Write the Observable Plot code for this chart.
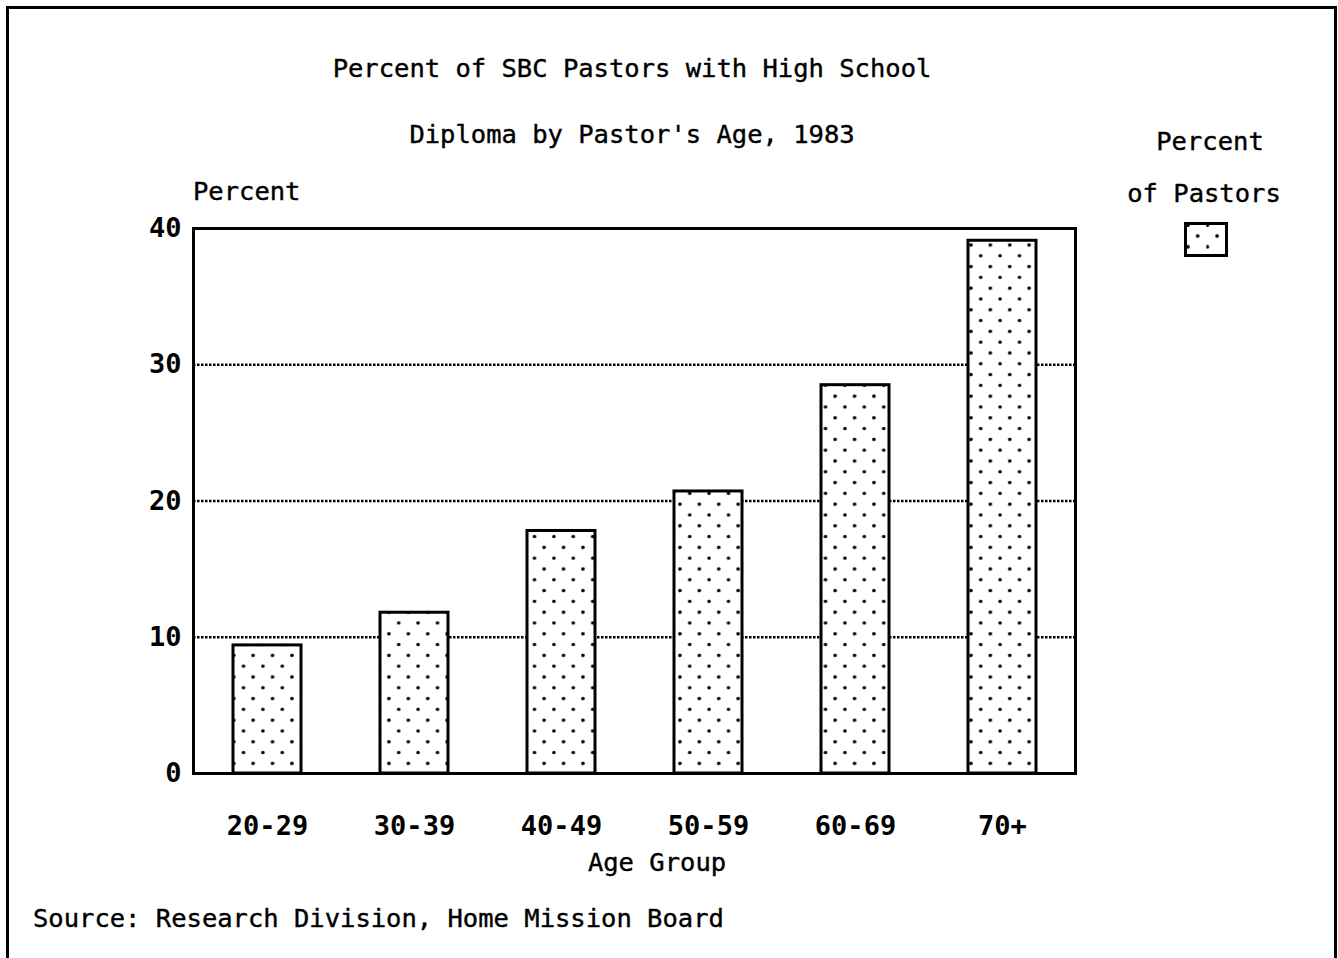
<!DOCTYPE html>
<html><head><meta charset="utf-8">
<script src="https://cdn.jsdelivr.net/npm/d3@7"></script>
<script src="https://cdn.jsdelivr.net/npm/@observablehq/plot@0.6"></script>
<style>
body{margin:0;background:#fff;}
#page{position:relative;width:1338px;height:958px;overflow:hidden;background:#fff;font-family:"DejaVu Sans Mono",monospace;color:#000;}
.t{position:absolute;font-size:25.5px;line-height:1;white-space:nowrap;-webkit-text-stroke:0.4px #000;}
.c{transform:translateX(-50%);}
#border{position:absolute;left:6px;top:6px;width:1331px;height:1000px;border:3px solid #000;box-sizing:border-box;}
#chart{position:absolute;left:0;top:0;}
#legbox{position:absolute;left:1184px;top:222px;}
</style></head><body>
<div id="page">
<div id="chart"></div>
<div id="border"></div>
<div class="t c" style="left:632px;top:56px;">Percent of SBC Pastors with High School</div>
<div class="t c" style="left:632px;top:122px;">Diploma by Pastor's Age, 1983</div>
<div class="t" style="left:193px;top:179px;">Percent</div>
<div class="t c" style="left:1210px;top:129px;">Percent</div>
<div class="t c" style="left:1204px;top:181px;">of Pastors</div>
<svg id="legbox" width="45" height="36">
  <defs>
    <pattern id="legdots" patternUnits="userSpaceOnUse" width="19.4" height="21.6" x="3" y="5">
      <rect width="19.4" height="21.6" fill="#fff"/>
      <circle cx="10.7" cy="9" r="1.8" fill="#000"/>
      <circle cx="1" cy="19.8" r="1.8" fill="#000"/>
    </pattern>
  </defs>
  <rect x="1.5" y="1.5" width="41" height="32" fill="url(#legdots)" stroke="#000" stroke-width="3"/>
</svg>
<div class="t c" style="left:657px;top:850px;">Age Group</div>
<div class="t" style="left:33px;top:906px;">Source: Research Division, Home Mission Board</div>
</div>
<script>
const ageGroups = ["20-29", "30-39", "40-49", "50-59", "60-69", "70+"];
const percents = [9.4, 11.8, 17.8, 20.7, 28.5, 39.1];
const yTicks = [0, 10, 20, 30, 40];
const gridValues = [10, 20, 30];

const data = ageGroups.map((age, i) => ({age, pct: percents[i]}));

const chart = Plot.plot({
  width: 1338,
  height: 958,
  marginLeft: 193,
  marginRight: 263,
  marginTop: 228,
  marginBottom: 185,
  style: {fontFamily: "DejaVu Sans Mono", fontSize: "27px", fontWeight: "bold", color: "black", background: "transparent", overflow: "visible"},
  x: {domain: ageGroups, paddingInner: 0.54, paddingOuter: 0.27, label: null, tickSize: 0, tickPadding: 42},
  y: {domain: [0, 40], ticks: yTicks, label: null, tickSize: 0, tickPadding: 12},
  marks: [
    Plot.ruleY(gridValues, {stroke: "black", strokeWidth: 2.5, strokeDasharray: "2.5,1.5"}),
    Plot.barY(data, {x: "age", y: "pct", fill: "url(#dots)", stroke: "black", strokeWidth: 3}),
    Plot.frame({stroke: "black", strokeWidth: 3})
  ]
});

const NS = "http://www.w3.org/2000/svg";
const defs = document.createElementNS(NS, "defs");
const pat = document.createElementNS(NS, "pattern");
pat.setAttribute("id", "dots");
pat.setAttribute("patternUnits", "userSpaceOnUse");
pat.setAttribute("width", "19.4");
pat.setAttribute("height", "21.6");
const bg = document.createElementNS(NS, "rect");
bg.setAttribute("width", "19.4"); bg.setAttribute("height", "21.6"); bg.setAttribute("fill", "#fff");
pat.appendChild(bg);
[[1, 7.4], [10.7, 18.2]].forEach(([cx, cy]) => {
  const c = document.createElementNS(NS, "circle");
  c.setAttribute("cx", cx); c.setAttribute("cy", cy); c.setAttribute("r", "1.8"); c.setAttribute("fill", "#000");
  pat.appendChild(c);
  if (cx < 2) { const c2 = c.cloneNode(); c2.setAttribute("cx", cx + 19.4); pat.appendChild(c2); }
});
defs.appendChild(pat);
chart.insertBefore(defs, chart.firstChild);
document.getElementById("chart").appendChild(chart);
</script>
</body></html>
